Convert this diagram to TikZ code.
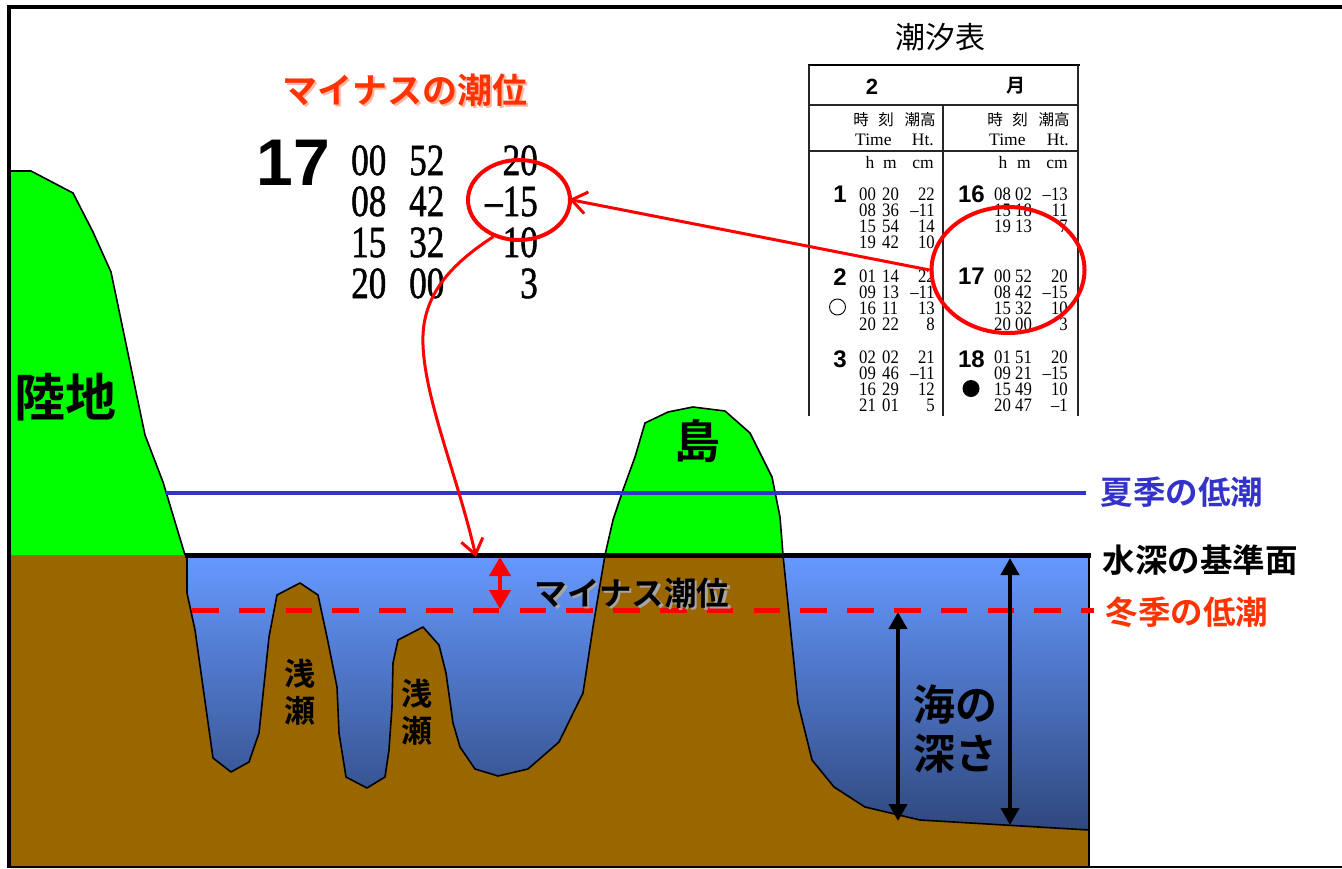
\documentclass[tikz,border=0pt]{standalone}
\usepackage{fontspec}
\usetikzlibrary{arrows.meta,shapes.geometric,calc}
\newfontfamily\jpfont{Noto Sans CJK JP}[BoldFont={Noto Sans CJK JP Bold}]
\newfontfamily\heavysans{Liberation Sans}
\newfontfamily\tidefont{Liberation Serif}
\newfontfamily\tidefontheavy{Liberation Serif}[FakeBold=1.3]

\definecolor{landgreen}{RGB}{0,255,0}
\definecolor{soil}{RGB}{153,102,0}
\definecolor{seatop}{RGB}{102,153,255}
\definecolor{seabottom}{RGB}{46,70,122}
\definecolor{summerblue}{RGB}{51,51,204}
\definecolor{alertred}{RGB}{255,0,0}
\definecolor{labelred}{RGB}{255,51,0}

% condensed digits for the tide tables
\newcommand\narrowsmall[1]{\scalebox{0.88}[1]{#1}}
\newcommand\narrowbig[1]{\scalebox{0.79}[1]{#1}}

% one row of the small tide table: baseline, hour, minute, height
\newcommand\tideleft[4]{%
  \node[smallnum,anchor=base west] (L#1h) at (859,#1) {\narrowsmall{#2}};
  \node[smallnum,anchor=base west] (L#1m) at (882,#1) {\narrowsmall{#3}};
  \node[smallnum,anchor=base east] (L#1c) at (935,#1) {\narrowsmall{#4}};}
\newcommand\tideright[4]{%
  \node[smallnum,anchor=base west] (R#1h) at (994,#1) {\narrowsmall{#2}};
  \node[smallnum,anchor=base west] (R#1m) at (1015,#1) {\narrowsmall{#3}};
  \node[smallnum,anchor=base east] (R#1c) at (1068,#1) {\narrowsmall{#4}};}
% one row of the enlarged excerpt
\newcommand\bigrow[4]{%
  \node[bignum,anchor=base west] (B#1h) at (351,#1) {\narrowbig{#2}};
  \node[bignum,anchor=base west] (B#1m) at (409,#1) {\narrowbig{#3}};
  \node[bignum,anchor=base east] (B#1c) at (538,#1) {\narrowbig{#4}};}

\newcommand\bedleft{(187,555) -- (187,593) -- (195,630) -- (213,758) -- (231,772) -- (249,762) -- (259,733) -- (269,637) -- (277,595) -- (300,583) -- (318,595) -- (327,637) -- (337,687) -- (339,733) -- (346,777) -- (367,788) -- (385,777) -- (389,750) -- (392,707) -- (393,663) -- (398,640) -- (423,627) -- (439,645) -- (446,673) -- (453,723) -- (460,747) -- (475,769) -- (498,776) -- (528,769) -- (559,742) -- (583,693) -- (593,627) -- (605,555)}
\newcommand\bedright{(783,555) -- (798,703) -- (812,760) -- (834,787) -- (865,807) -- (920,820) -- (1089,830)}

\tikzset{
  smallnum/.style={inner sep=0pt, font=\tidefont\fontsize{19}{19}\selectfont},
  bignum/.style={inner sep=0pt, font=\tidefontheavy\fontsize{44.5}{44.5}\selectfont},
  daynum/.style={inner sep=0pt, font=\heavysans\bfseries\fontsize{24}{24}\selectfont},
  headtxt/.style={inner sep=0pt, font=\tidefont\fontsize{17.5}{17.5}\selectfont},
  headjp/.style={inner sep=0pt, font=\jpfont\fontsize{15.5}{15.5}\selectfont},
  jplabel/.style={inner sep=0pt, font=\jpfont\bfseries\fontsize{32.5}{32.5}\selectfont},
  redring/.style={draw=alertred, line width=4pt, ellipse, inner sep=0pt},
  redlink/.style={draw=alertred, line width=3pt, -{Straight Barb[length=15pt,width=22pt]}},
  depthdim/.style={line width=4pt, {Triangle[length=17pt,width=18pt]}-{Triangle[length=17pt,width=18pt]}},
  minusdim/.style={draw=alertred, line width=4pt, {Triangle[length=19pt,width=21pt]}-{Triangle[length=19pt,width=21pt]}},
  tabrule/.style={line width=1.3pt, draw=black!85},
  bedline/.style={line width=1.6pt, line join=round},
}

\begin{document}
\begin{tikzpicture}[x=1pt,y=-1pt]
\useasboundingbox[fill=white] (0,0) rectangle (1342,868);

% ---- sea water ----
\shade[top color=seatop, bottom color=seabottom] (186,555) rectangle (1089,836);

% ---- sea floor, shoals and island base ----
\fill[soil] (11,555) -- \bedleft -- \bedright -- (1089,868) -- (11,868) -- cycle;
\draw[bedline] \bedleft;
\draw[bedline] \bedright;

% ---- land and island above the datum ----
\fill[landgreen] (11,171) -- (31,171) -- (73,193) -- (93,232) -- (111,272) -- (145,435) -- (163,482) -- (185,555) -- (11,555) -- cycle;
\draw[bedline] (11,171) -- (31,171) -- (73,193) -- (93,232) -- (111,272) -- (145,435) -- (163,482) -- (185,555);
\fill[landgreen] (605,555) -- (613,520) -- (623,490) -- (635,457) -- (645,423) -- (668,412) -- (693,407) -- (725,411) -- (750,433) -- (772,477) -- (780,517) -- (783,555) -- cycle;
\draw[bedline] (605,555) -- (613,520) -- (623,490) -- (635,457) -- (645,423) -- (668,412) -- (693,407) -- (725,411) -- (750,433) -- (772,477) -- (780,517) -- (783,555);

% ---- reference levels ----
\coordinate (summerL) at (166,493);
\coordinate (summerR) at (1086,493);
\draw[summerblue, line width=4pt] (summerL) -- (summerR);
\coordinate (datumL) at (185,555);
\coordinate (datumR) at (1091,555);
\draw[line width=5pt] (datumL) -- (datumR);
\draw[line width=2.5pt] (1089,555) -- (1089,868);
\coordinate (winterL) at (192,610);
\coordinate (winterR) at (1094,610);
\draw[alertred, line width=5pt, dash pattern=on 26.5pt off 20.3pt] (winterL) -- (winterR);

% ---- depth arrows ----
\coordinate (dA1) at (898,612);
\coordinate (dA2) at (898,821);
\draw[depthdim] (dA1) -- (dA2);
\coordinate (dB1) at (1010,558);
\coordinate (dB2) at (1010,825);
\draw[depthdim] (dB1) -- (dB2);
\coordinate (mA1) at (500,557);
\coordinate (mA2) at (500,609);
\draw[minusdim] (mA1) -- (mA2);

% ---- labels in the section ----
\node[jplabel, font=\jpfont\bfseries\fontsize{51}{51}\selectfont] (land) at (66,397) {陸地};
\node[jplabel, font=\jpfont\bfseries\fontsize{46}{46}\selectfont] (island) at (697,441) {島};
\node[jplabel, font=\jpfont\bfseries\fontsize{31}{31}\selectfont] (sh1a) at (300,674) {浅};
\node[jplabel, font=\jpfont\bfseries\fontsize{31}{31}\selectfont] (sh1b) at (300,711) {瀬};
\node[jplabel, font=\jpfont\bfseries\fontsize{31}{31}\selectfont] (sh2a) at (417,694) {浅};
\node[jplabel, font=\jpfont\bfseries\fontsize{31}{31}\selectfont] (sh2b) at (417,731) {瀬};
\node[jplabel, text=black!35] (minusshadow) at (634.5,595.5) {マイナス潮位};
\node[jplabel] (minuslabel) at (632,593) {マイナス潮位};
\node[jplabel, font=\jpfont\bfseries\fontsize{42}{42}\selectfont] (depth1) at (955,705) {海の};
\node[jplabel, font=\jpfont\bfseries\fontsize{42}{42}\selectfont] (depth2) at (955,754) {深さ};
\node[jplabel, text=summerblue] (summer) at (1182,492) {夏季の低潮};
\node[jplabel] (datum) at (1200,560) {水深の基準面};
\node[jplabel, text=labelred] (winter) at (1187,612) {冬季の低潮};

% ---- enlarged excerpt of the 17th ----
\node[jplabel, text=labelred!35] (titleshadow) at (407,92) {\fontsize{35}{35}\selectfont マイナスの潮位};
\node[jplabel, text=labelred, font=\jpfont\bfseries\fontsize{35}{35}\selectfont] (title) at (405,90) {マイナスの潮位};
\node[inner sep=0pt, font=\heavysans\bfseries\fontsize{66}{66}\selectfont, anchor=base east] (big17) at (330,185) {17};
\bigrow{175}{00}{52}{20}
\bigrow{216}{08}{42}{\textendash 15}
\bigrow{257}{15}{32}{10}
\bigrow{298}{20}{00}{3}

% ---- tide table ----
\node[inner sep=0pt, font=\jpfont\fontsize{30}{30}\selectfont] (tabletitle) at (940,37) {潮汐表};
\draw[line width=2pt] (808,65) -- (1080,65);
\draw[tabrule] (809,65) -- (809,416);
\draw[tabrule] (1078,65) -- (1078,416);
\draw[tabrule] (809,105) -- (1078,105);
\draw[tabrule] (809,151) -- (1078,151);
\draw[tabrule] (943,105) -- (943,416);
\node[daynum, font=\heavysans\bfseries\fontsize{22}{22}\selectfont] (month) at (872,87) {2};
\node[inner sep=0pt, font=\jpfont\bfseries\fontsize{19}{19}\selectfont] (monthjp) at (1016,86) {月};

\node[headjp] (hjL1) at (861,120) {時};
\node[headjp] (hjL2) at (886,120) {刻};
\node[headjp] (hjL3) at (920,120) {潮高};
\node[headjp] (hjR1) at (995,120) {時};
\node[headjp] (hjR2) at (1020,120) {刻};
\node[headjp] (hjR3) at (1054,120) {潮高};
\node[headtxt, anchor=base west] (timeL) at (855,145) {Time};
\node[headtxt, anchor=base east] (htL) at (934,145) {Ht.};
\node[headtxt, anchor=base west] (timeR) at (989,145) {Time};
\node[headtxt, anchor=base east] (htR) at (1069,145) {Ht.};
\node[headtxt, anchor=base] (uhL) at (870,168) {h};
\node[headtxt, anchor=base] (umL) at (890,168) {m};
\node[headtxt, anchor=base east] (ucL) at (934,168) {cm};
\node[headtxt, anchor=base] (uhR) at (1003,168) {h};
\node[headtxt, anchor=base] (umR) at (1024,168) {m};
\node[headtxt, anchor=base east] (ucR) at (1068,168) {cm};

\node[daynum, anchor=base east] (day1) at (847,202) {1};
\node[daynum, anchor=base east] (day2) at (847,285) {2};
\node[daynum, anchor=base east] (day3) at (847,367) {3};
\node[daynum, anchor=base east] (day16) at (985,202) {16};
\node[daynum, anchor=base east] (day17) at (985,284) {17};
\node[daynum, anchor=base east] (day18) at (985,367) {18};
\node[draw, circle, line width=0.9pt, minimum size=16pt, inner sep=0pt] (newmoon) at (837.5,307) {};
\node[fill, circle, minimum size=17pt, inner sep=0pt] (fullmoon) at (971,388.5) {};

\tideleft{200}{00}{20}{22}
\tideleft{216}{08}{36}{\textendash 11}
\tideleft{232}{15}{54}{14}
\tideleft{248}{19}{42}{10}
\tideleft{282}{01}{14}{22}
\tideleft{298}{09}{13}{\textendash 11}
\tideleft{314}{16}{11}{13}
\tideleft{330}{20}{22}{8}
\tideleft{363}{02}{02}{21}
\tideleft{379}{09}{46}{\textendash 11}
\tideleft{395}{16}{29}{12}
\tideleft{411}{21}{01}{5}
\tideright{200}{08}{02}{\textendash 13}
\tideright{216}{15}{18}{11}
\tideright{232}{19}{13}{7}
\tideright{282}{00}{52}{20}
\tideright{298}{08}{42}{\textendash 15}
\tideright{314}{15}{32}{10}
\tideright{330}{20}{00}{3}
\tideright{363}{01}{51}{20}
\tideright{379}{09}{21}{\textendash 15}
\tideright{395}{15}{49}{10}
\tideright{411}{20}{47}{\textendash 1}

% ---- highlight rings and links ----
\node[redring, minimum width=102pt, minimum height=80pt] (e1) at (519,200) {};
\node[redring, minimum width=153pt, minimum height=126pt] (e2) at (1008,270) {};
\draw[redlink, shorten >=-3pt] (e2.west) -- (e1.east);
\coordinate (msurf) at (476,557);
\draw[redlink] (e1.235) .. controls (445,268) and (421,300) .. (423,345) .. controls (425,400) and (458,478) .. (msurf);

% ---- frame ----
\draw[line width=4pt] (1342,7) -- (9,7) -- (9,868);
\draw[line width=1.5pt] (9,867) -- (1342,867);
\end{tikzpicture}
\end{document}
